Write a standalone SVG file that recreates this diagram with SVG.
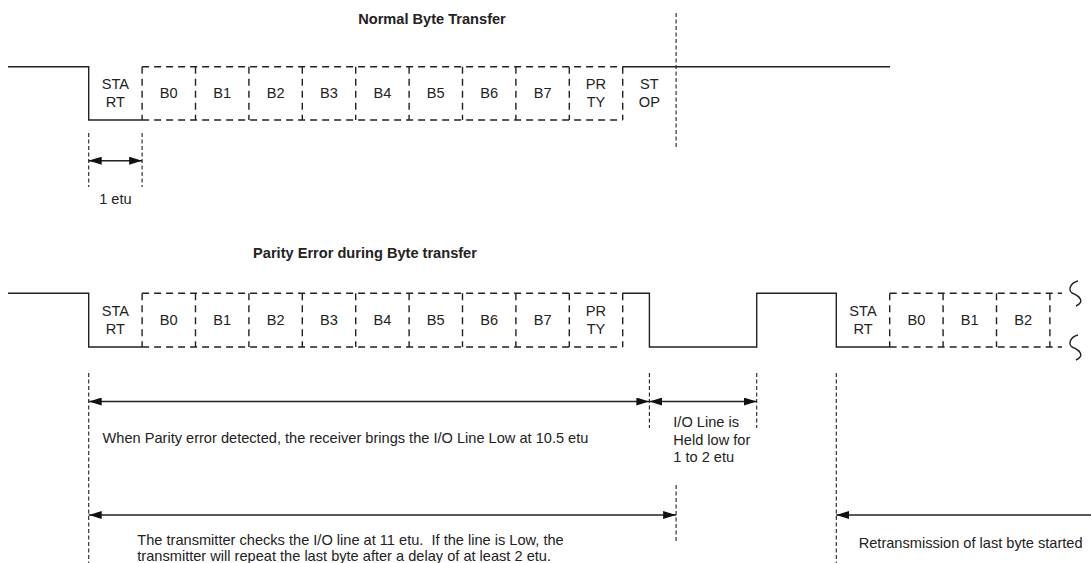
<svg xmlns="http://www.w3.org/2000/svg" width="1091" height="563" viewBox="0 0 1091 563">
<style>
.t{font-family:"Liberation Sans",Arial,sans-serif;font-size:14.6px;fill:#222}
.c{text-anchor:middle}
.b{font-weight:bold}
.w{stroke:#222;stroke-width:1.4;fill:none}
.d{stroke:#222;stroke-width:1.4;fill:none;stroke-dasharray:7 5}
.x{stroke:#222;stroke-width:1.1;fill:none;stroke-dasharray:4 2.5}
.a{stroke:#222;stroke-width:1.4;fill:none}
</style>
<defs>
<marker id="ah" viewBox="0 0 13 8" refX="13" refY="4" markerWidth="13" markerHeight="8" markerUnits="userSpaceOnUse" orient="auto-start-reverse">
<path d="M0,0 L13,4 L0,8 z" fill="#111"/>
</marker>
</defs>
<rect width="1091" height="563" fill="#fff"/>

<g id="title-normal"><text class="t b c" x="432" y="24.3">Normal Byte Transfer</text></g>

<g id="wave-normal">
<path class="w" d="M8,66.7 H88.7 V120 H142.1"/>
<path class="w" d="M622.7,66.7 H890"/>
<path class="d" d="M142.1,66.7 H622.7 M142.1,120 H622.7"/>
<path class="d" d="M142.1,66.7 V120 M195.5,66.7 V120 M248.9,66.7 V120 M302.3,66.7 V120 M355.7,66.7 V120 M409.1,66.7 V120 M462.5,66.7 V120 M515.9,66.7 V120 M569.3,66.7 V120 M622.7,66.7 V120"/>
<path class="x" d="M676.1,13 V147"/>
</g>
<g id="cells-normal">
<text class="t c" x="115.4" y="89.3">STA</text><text class="t c" x="115.4" y="106.7">RT</text>
<text class="t c" x="168.8" y="98.3">B0</text>
<text class="t c" x="222.2" y="98.3">B1</text>
<text class="t c" x="275.6" y="98.3">B2</text>
<text class="t c" x="329" y="98.3">B3</text>
<text class="t c" x="382.4" y="98.3">B4</text>
<text class="t c" x="435.8" y="98.3">B5</text>
<text class="t c" x="489.2" y="98.3">B6</text>
<text class="t c" x="542.6" y="98.3">B7</text>
<text class="t c" x="596" y="89.3">PR</text><text class="t c" x="596" y="106.7">TY</text>
<text class="t c" x="649.4" y="89.3">ST</text><text class="t c" x="649.4" y="106.7">OP</text>
</g>

<g id="dim-1etu">
<path class="x" d="M88.7,133 V187 M142.1,133 V187"/>
<text class="t c" x="115.4" y="204">1 etu</text>
</g>

<g id="title-parity"><text class="t b c" x="365" y="258">Parity Error during Byte transfer</text></g>

<g id="wave-parity">
<path class="w" d="M8,293.3 H88.7 V347 H142.1"/>
<path class="w" d="M622.7,293.3 H649.4 V347 H756.7 V293.3 H836.3 V347 H889.7"/>
<path class="d" d="M142.1,293.3 H622.7 M142.1,347 H622.7"/>
<path class="d" d="M142.1,293.3 V347 M195.5,293.3 V347 M248.9,293.3 V347 M302.3,293.3 V347 M355.7,293.3 V347 M409.1,293.3 V347 M462.5,293.3 V347 M515.9,293.3 V347 M569.3,293.3 V347 M622.7,293.3 V347"/>
<path class="d" d="M889.7,293.3 H1062 M889.7,347 H1062"/>
<path class="d" d="M889.7,293.3 V347 M943.1,293.3 V347 M996.5,293.3 V347 M1049.9,293.3 V347"/>
<path class="w" d="M1078,281 C1070,283 1068,290 1072,293 C1080,296 1085,302 1076,306"/>
<path class="w" d="M1078,335 C1070,337 1068,344 1072,347 C1080,350 1085,356 1076,360"/>
</g>
<g id="cells-parity">
<text class="t c" x="115.4" y="316">STA</text><text class="t c" x="115.4" y="333.5">RT</text>
<text class="t c" x="168.8" y="325">B0</text>
<text class="t c" x="222.2" y="325">B1</text>
<text class="t c" x="275.6" y="325">B2</text>
<text class="t c" x="329" y="325">B3</text>
<text class="t c" x="382.4" y="325">B4</text>
<text class="t c" x="435.8" y="325">B5</text>
<text class="t c" x="489.2" y="325">B6</text>
<text class="t c" x="542.6" y="325">B7</text>
<text class="t c" x="596" y="316">PR</text><text class="t c" x="596" y="333.5">TY</text>
<text class="t c" x="863" y="316">STA</text><text class="t c" x="863" y="333.5">RT</text>
<text class="t c" x="916.4" y="325">B0</text>
<text class="t c" x="969.8" y="325">B1</text>
<text class="t c" x="1023.2" y="325">B2</text>
</g>

<g id="extension-lines">
<path class="x" d="M88.7,373 V563 M649.4,373 V428 M756.7,373 V428 M676.1,485 V543 M836.3,373 V563"/>
</g>

<g id="connectors">
<line class="a" x1="88.7" y1="160.7" x2="142.1" y2="160.7" marker-start="url(#ah)" marker-end="url(#ah)"/>
<line class="a" x1="88.7" y1="401.5" x2="649.4" y2="401.5" marker-start="url(#ah)" marker-end="url(#ah)"/>
<line class="a" x1="649.4" y1="401.5" x2="756.7" y2="401.5" marker-start="url(#ah)" marker-end="url(#ah)"/>
<line class="a" x1="88.7" y1="515" x2="676.1" y2="515" marker-start="url(#ah)" marker-end="url(#ah)"/>
<line class="a" x1="1091" y1="515" x2="836.3" y2="515" marker-end="url(#ah)"/>
</g>

<g id="labels">
<text class="t" x="102.5" y="443">When Parity error detected, the receiver brings the I/O Line Low at 10.5 etu</text>
<text class="t" x="673.3" y="427.3">I/O Line is</text>
<text class="t" x="673.3" y="444.5">Held low for</text>
<text class="t" x="673.3" y="461.7">1 to 2 etu</text>
<text class="t" x="137.3" y="545" xml:space="preserve">The transmitter checks the I/O line at 11 etu.  If the line is Low, the</text>
<text class="t" x="137.3" y="561">transmitter will repeat the last byte after a delay of at least 2 etu.</text>
<text class="t" x="858.7" y="548">Retransmission of last byte started</text>
</g>
</svg>
